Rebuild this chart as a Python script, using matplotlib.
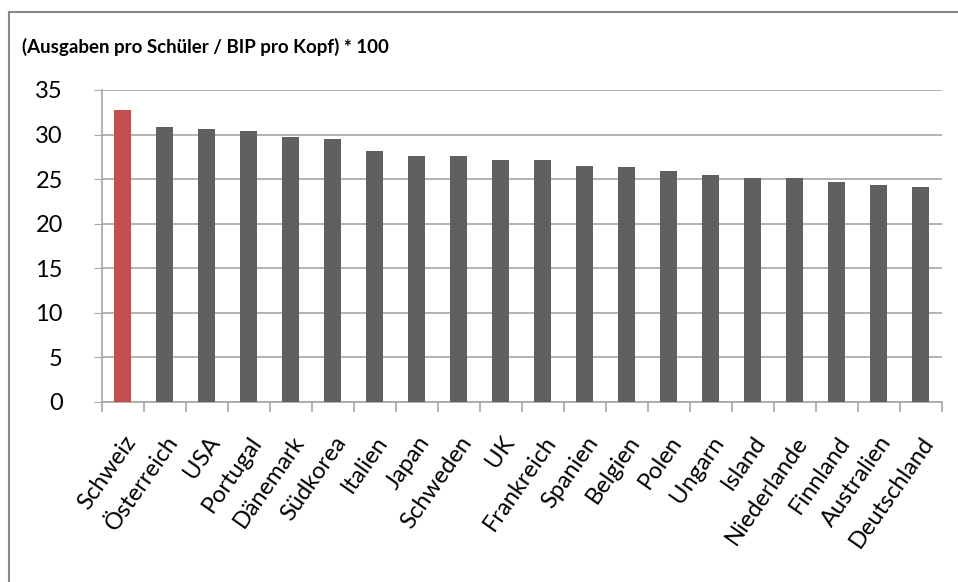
import matplotlib
matplotlib.use("Agg")
import matplotlib.pyplot as plt
from matplotlib.lines import Line2D

countries = ["Schweiz", "Österreich", "USA", "Portugal", "Dänemark", "Südkorea",
             "Italien", "Japan", "Schweden", "UK", "Frankreich", "Spanien",
             "Belgien", "Polen", "Ungarn", "Island", "Niederlande", "Finnland",
             "Australien", "Deutschland"]
values = [32.75, 30.9, 30.6, 30.45, 29.75, 29.45, 28.15, 27.55, 27.55, 27.15,
          27.15, 26.45, 26.3, 25.95, 25.4, 25.15, 25.15, 24.7, 24.3, 24.15]
highlight = "Schweiz"
title = "(Ausgaben pro Schüler / BIP pro Kopf) * 100"
yticks = [0, 5, 10, 15, 20, 25, 30, 35]

plt.rcParams['font.family'] = ['Lato', 'DejaVu Sans']

W, H = 958, 582
fig = plt.figure(figsize=(W / 100, H / 100), dpi=100)
ax = fig.add_axes([101.7 / W, 1 - 401.7 / H, (941.7 - 101.7) / W, (401.7 - 90) / H])

colors = ["#C0504D" if c == highlight else "#606060" for c in countries]
x = list(range(len(countries)))
ax.bar(x, values, width=0.4, color=colors, zorder=3)

ax.set_xlim(-0.5, len(countries) - 0.5)
ax.set_ylim(0, 35)
ax.set_yticks(yticks)
ax.set_yticklabels([str(t) for t in yticks], fontsize=17)
ax.yaxis.grid(True, color="#A6A6A6", linewidth=1.2, zorder=0)
ax.tick_params(axis="y", length=6, color="#A6A6A6", pad=22)

ax.set_xticks([i - 0.5 for i in range(len(countries) + 1)], minor=True)
ax.set_xticks(x)
ax.set_xticklabels(countries, rotation=55, ha="right", rotation_mode="anchor", fontsize=17)
ax.tick_params(axis="x", which="major", length=0, pad=22)
ax.tick_params(axis="x", which="minor", length=7, color="#A6A6A6", width=1.2)

for s in ["top", "right"]:
    ax.spines[s].set_visible(False)
for s in ["left", "bottom"]:
    ax.spines[s].set_color("#A6A6A6")
    ax.spines[s].set_linewidth(1.2)

fig.text(22 / W, 1 - 47 / H, title, fontsize=13.5, fontweight="bold", va="center", ha="left")

# outer frame (top and left edges visible)
fig.add_artist(Line2D([9 / W, 1.0], [1 - 12 / H, 1 - 12 / H], transform=fig.transFigure,
                      color="#888888", linewidth=1.5))
fig.add_artist(Line2D([9 / W, 9 / W], [1 - 12 / H, 0], transform=fig.transFigure,
                      color="#888888", linewidth=1.5))

fig.savefig("out.png", dpi=100)
